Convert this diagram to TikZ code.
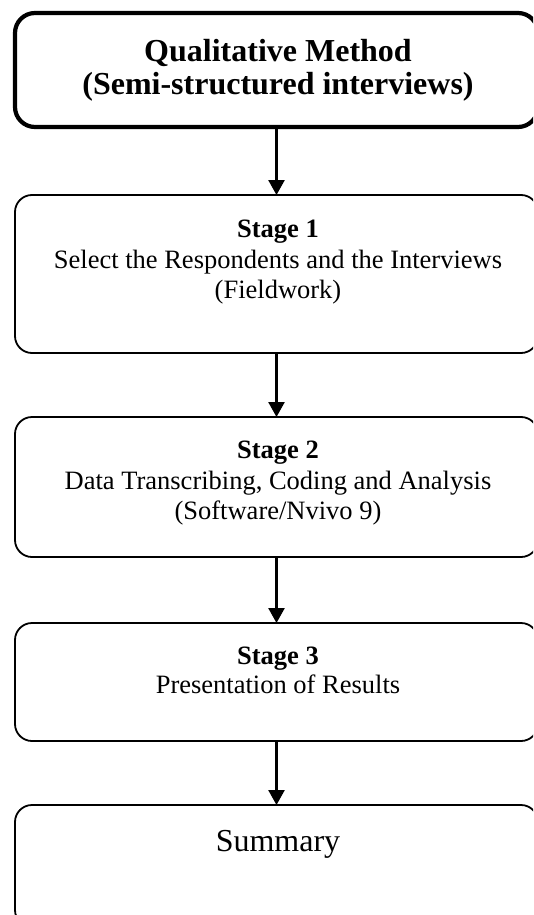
\documentclass[tikz,border=0pt]{standalone}
\usepackage{fontspec}
\setmainfont{Liberation Serif}
\usetikzlibrary{arrows.meta}
\tikzset{
  box/.style={draw=black, line width=1.8pt, rounded corners=17pt, minimum width=523pt, inner sep=0pt, outer sep=0pt},
  topbox/.style={box, line width=4.2pt, rounded corners=20pt},
  arr/.style={line width=2.5pt, -{Triangle[length=15pt,width=16pt]}},
  lbl/.style={anchor=base, inner sep=0pt, font=\fontsize{26.5}{30}\selectfont},
  ttl/.style={anchor=base, inner sep=0pt, font=\fontsize{32}{33}\selectfont\bfseries},
  sumlbl/.style={anchor=base, inner sep=0pt, font=\fontsize{32}{36}\selectfont}
}
\begin{document}
\begin{tikzpicture}[x=1pt,y=-1pt]
\useasboundingbox (0,0) rectangle (533,915);
\clip (0,0) rectangle (533,915);
% boxes
\node[topbox, minimum height=114pt] (top) at (276.5,70) {};
\node[box, minimum height=158pt] (s1) at (276.5,274) {};
\node[box, minimum height=140pt] (s2) at (276.5,487) {};
\node[box, minimum height=118pt] (s3) at (276.5,682) {};
\node[box, minimum height=122pt] (sum) at (276.5,866) {};
% texts
\node[ttl] (t0a) at (278,62) {Qualitative Method};
\node[ttl] (t0b) at (278,95) {(Semi-structured interviews)};
\node[lbl] (t1a) at (278,237) {\bfseries Stage 1};
\node[lbl] (t1b) at (278,268) {Select the Respondents and the Interviews};
\node[lbl] (t1c) at (278,298) {(Fieldwork)};
\node[lbl] (t2a) at (278,458) {\bfseries Stage 2};
\node[lbl] (t2b) at (278,489) {Data Transcribing, Coding and Analysis};
\node[lbl] (t2c) at (278,519) {(Software/Nvivo 9)};
\node[lbl] (t3a) at (278,664) {\bfseries Stage 3};
\node[lbl] (t3b) at (278,693) {Presentation of Results};
\node[sumlbl] (t4) at (278,851) {Summary};
% arrows
\draw[arr] (top.south) -- (s1.north);
\draw[arr] (s1.south) -- (s2.north);
\draw[arr] (s2.south) -- (s3.north);
\draw[arr] (s3.south) -- (sum.north);
\end{tikzpicture}
\end{document}
